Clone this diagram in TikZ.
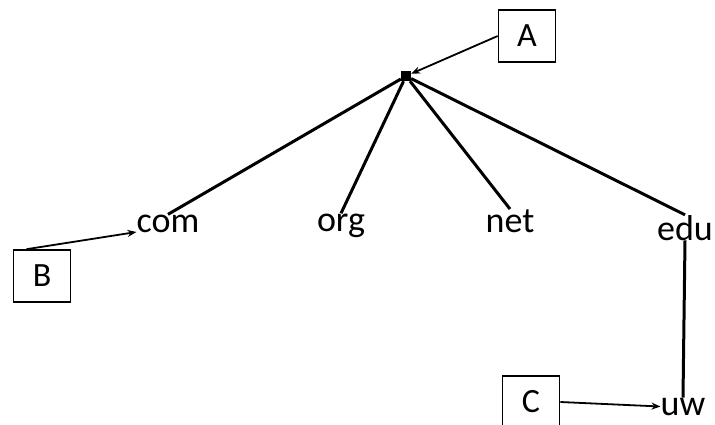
\documentclass[tikz,border=0pt]{standalone}
\usepackage{fontspec}
\setmainfont{Carlito}
\usetikzlibrary{arrows.meta}

\begin{document}
\begin{tikzpicture}[
				x=1pt, y=-1pt,
				% Defining node styles
				zone/.style={inner sep=0pt, font=\fontsize{36}{40}\selectfont},
				box/.style={rectangle, draw=black, line width=1.6pt, minimum width=57pt, minimum height=52pt, font=\fontsize{34}{38}\selectfont},
				branch/.style={line width=3pt, draw=black},
				pointer/.style={-{Stealth[length=9pt, width=7pt]}, line width=1.8pt, draw=black}
			]
			\useasboundingbox (0,0) rectangle (715,425);

			% Root of the tree
			\node[fill=black, minimum size=10pt, inner sep=0pt] (root) at (406,76) {};

			% Top level domains
			\node[zone, anchor=base] (com) at (168,232) {com};
			\node[zone, anchor=base] (org) at (341,231) {org};
			\node[zone, anchor=base] (net) at (510,232) {net};
			\node[zone, anchor=base] (edu) at (685,240) {edu};
			\node[zone, anchor=base] (uw) at (683,415) {uw};

			% Boxes
			\node[box] (A) at (527,36) {A};
			\node[box] (B) at (42,276) {B};
			\node[box] (C) at (531,402) {C};

			% Drawing branches
			\draw[branch] (root) -- (com.north);
			\draw[branch] (root) -- (org.north);
			\draw[branch] (root) -- (net.north);
			\draw[branch] (root) -- (edu.north);
			\draw[branch] (edu.south) -- (uw.north);

			% Drawing pointers
			\draw[pointer] (A.west) -- (root);
			\draw[pointer] (B.120) -- (com.base west);
			\draw[pointer] (C.east) -- (uw.west);

		\end{tikzpicture}
\end{document}
